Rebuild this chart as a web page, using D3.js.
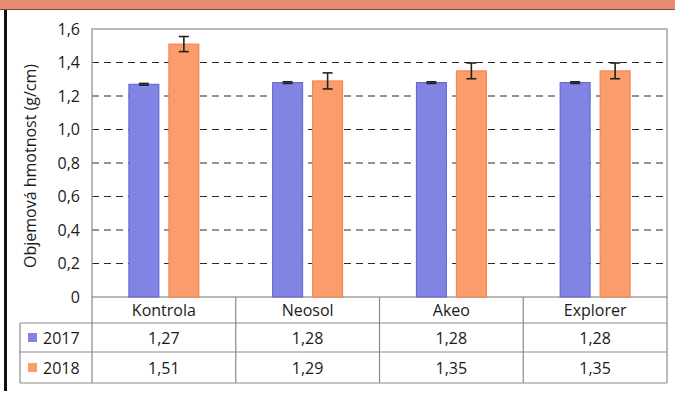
<!DOCTYPE html>
<html>
<head>
<meta charset="utf-8">
<script src="https://cdn.jsdelivr.net/npm/d3@7"></script>
<style>
  body { margin: 0; background: #fff; }
  text { font-family: "Open Sans", sans-serif; fill: #1a1a1a; }
</style>
</head>
<body>
<svg id="chart" width="675" height="394"></svg>
<script>
// values
var categories = ["Kontrola", "Neosol", "Akeo", "Explorer"];
var years = ["2017", "2018"];
var values2017 = [1.27, 1.28, 1.28, 1.28];
var values2018 = [1.51, 1.29, 1.35, 1.35];
var errors2017 = [0.005, 0.005, 0.005, 0.005];
var errors2018 = [0.045, 0.048, 0.047, 0.047];
var yTicks = [0, 0.2, 0.4, 0.6, 0.8, 1.0, 1.2, 1.4, 1.6];
var colors = { "2017": "#8184e2", "2018": "#fb9c6b" };
var strokes = { "2017": "#5d60d4", "2018": "#f07f48" };

var fmt = function (v) { return v === 0 ? "0" : d3.format(".1f")(v).replace(".", ","); };
var fmt2 = function (v) { return d3.format(".2f")(v).replace(".", ","); };

var svg = d3.select("#chart");

// page decoration: salmon band on top, black rule on the left
svg.append("rect").attr("x", 0).attr("y", 0).attr("width", 675).attr("height", 9).attr("fill", "#e98a72");
svg.append("line").attr("x1", 0).attr("x2", 675).attr("y1", 9.5).attr("y2", 9.5).attr("stroke", "#7a4a40").attr("stroke-width", 1);
svg.append("rect").attr("x", 4).attr("y", 10).attr("width", 3).attr("height", 381).attr("fill", "#111");

var plotLeft = 92, plotRight = 667, plotTop = 29, plotBottom = 297;

var x = d3.scaleBand().domain(categories).range([plotLeft, plotRight]);
var y = d3.scaleLinear().domain([0, 1.6]).range([plotBottom, plotTop]);

// dashed gridlines
svg.append("g")
    .selectAll("line")
    .data(yTicks.filter(function (d) { return d > 0 && d < 1.6; }))
    .enter().append("line")
    .attr("x1", plotLeft).attr("x2", plotRight)
    .attr("y1", function (d) { return y(d); })
    .attr("y2", function (d) { return y(d); })
    .attr("stroke", "#2a2a2a")
    .attr("stroke-dasharray", "7,5")
    .attr("stroke-width", 1);

// plot frame
svg.append("rect")
    .attr("x", plotLeft).attr("y", plotTop)
    .attr("width", plotRight - plotLeft).attr("height", plotBottom - plotTop)
    .attr("fill", "none").attr("stroke", "#8a8a8a").attr("stroke-width", 1.2);

// y axis labels
var yAxis = svg.append("g")
    .attr("transform", "translate(" + plotLeft + ",0)")
    .call(d3.axisLeft(y).tickValues(yTicks).tickFormat(fmt).tickSize(0).tickPadding(12));
yAxis.select(".domain").remove();
yAxis.selectAll("text").attr("font-size", "16px").attr("font-family", "Open Sans").attr("fill", "#1a1a1a");

svg.append("text")
    .attr("transform", "translate(36," + ((plotTop + plotBottom) / 2 + 3) + ") rotate(-90)")
    .attr("text-anchor", "middle")
    .attr("font-size", "16px")
    .text("Objemová hmotnost (g/cm)");

// bars
var x1 = d3.scaleBand().domain(years).range([0, x.bandwidth()]).paddingInner(0.225).paddingOuter(0.91);

var series = [
    { year: "2017", values: values2017, errors: errors2017 },
    { year: "2018", values: values2018, errors: errors2018 }
];

series.forEach(function (s) {
    var g = svg.append("g");
    g.selectAll("rect")
        .data(categories)
        .enter().append("rect")
        .attr("x", function (d) { return x(d) + x1(s.year) + 0.5; })
        .attr("y", function (d, i) { return y(s.values[i]); })
        .attr("width", x1.bandwidth() - 1)
        .attr("height", function (d, i) { return plotBottom - y(s.values[i]); })
        .attr("fill", colors[s.year])
        .attr("stroke", strokes[s.year])
        .attr("stroke-width", 1);

    // error bars
    var eg = svg.append("g").attr("stroke", "#222").attr("stroke-width", 1.6);
    categories.forEach(function (c, i) {
        var cx = x(c) + x1(s.year) + x1.bandwidth() / 2;
        var hi = y(s.values[i] + s.errors[i]), lo = y(s.values[i] - s.errors[i]);
        eg.append("line").attr("x1", cx).attr("x2", cx).attr("y1", hi).attr("y2", lo);
        eg.append("line").attr("x1", cx - 5).attr("x2", cx + 5).attr("y1", hi).attr("y2", hi);
        eg.append("line").attr("x1", cx - 5).attr("x2", cx + 5).attr("y1", lo).attr("y2", lo);
    });
});

// data table under the plot
var rowLines = [323, 352, 383];
var tableLeft = 20;
var tg = svg.append("g").attr("stroke", "#8a8a8a").attr("stroke-width", 1.2);
rowLines.forEach(function (ry) {
    tg.append("line").attr("x1", tableLeft).attr("x2", plotRight).attr("y1", ry).attr("y2", ry);
});
tg.append("line").attr("x1", tableLeft).attr("x2", tableLeft).attr("y1", rowLines[0]).attr("y2", rowLines[2]);
categories.concat(["end"]).forEach(function (c, i) {
    var lx = i < categories.length ? x(c) : plotRight;
    tg.append("line").attr("x1", lx).attr("x2", lx).attr("y1", plotBottom).attr("y2", rowLines[2]);
});

svg.append("g")
    .selectAll("text")
    .data(categories)
    .enter().append("text")
    .attr("x", function (d) { return x(d) + x.bandwidth() / 2; })
    .attr("y", (plotBottom + rowLines[0]) / 2 + 6)
    .attr("text-anchor", "middle")
    .attr("font-size", "16px")
    .text(function (d) { return d; });

series.forEach(function (s, r) {
    var cy = (rowLines[r] + rowLines[r + 1]) / 2;
    svg.append("rect")
        .attr("x", 28).attr("y", cy - 4.5)
        .attr("width", 9).attr("height", 9)
        .attr("fill", colors[s.year]);
    svg.append("text")
        .attr("x", 43).attr("y", cy + 6)
        .attr("font-size", "16px")
        .text(s.year);
    svg.append("g")
        .selectAll("text")
        .data(categories)
        .enter().append("text")
        .attr("x", function (d) { return x(d) + x.bandwidth() / 2; })
        .attr("y", cy + 6)
        .attr("text-anchor", "middle")
        .attr("font-size", "16px")
        .text(function (d, i) { return fmt2(s.values[i]); });
});
</script>
</body>
</html>
